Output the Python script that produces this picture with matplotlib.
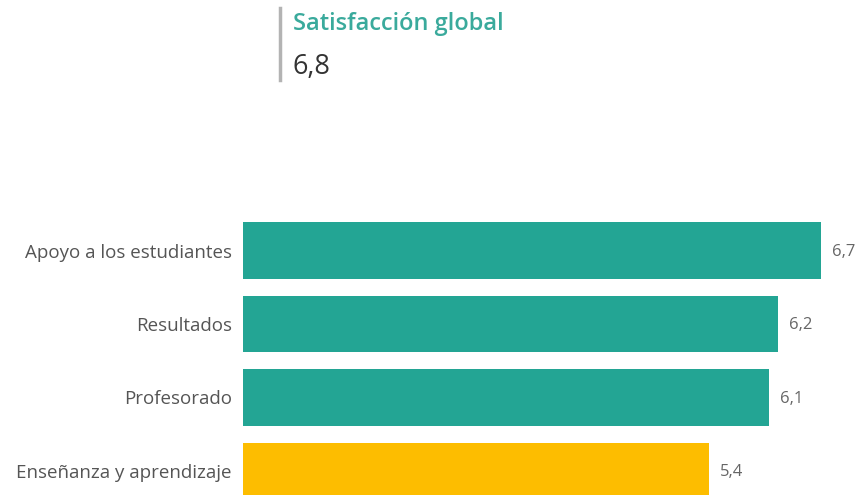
import matplotlib
matplotlib.use("Agg")
import matplotlib.pyplot as plt

# ── Data ──────────────────────────────────────────────────────────────────────
categories = ["Apoyo a los estudiantes", "Resultados", "Profesorado", "Enseñanza y aprendizaje"]
values = [6.7, 6.2, 6.1, 5.4]
bar_colors = ["#23A594", "#23A594", "#23A594", "#FDBD00"]
kpi_title = "Satisfacción global"
kpi_value = "6,8"

W, H = 861, 495
plt.rcParams["font.family"] = ["Open Sans", "DejaVu Sans"]

fig = plt.figure(figsize=(W / 100, H / 100), dpi=100)
fig.patch.set_facecolor("white")

# KPI header
fig.add_artist(plt.Line2D([280 / W, 280 / W], [1 - 8 / H, 1 - 80 / H],
                          color="#b3b3b3", linewidth=2.5, transform=fig.transFigure))
fig.text(293 / W, 1 - 24 / H, kpi_title, color="#3aaa9c", fontsize=17,
         fontweight="semibold", va="center", ha="left")
fig.text(292 / W, 1 - 67 / H, kpi_value, color="#333333", fontsize=19.5,
         va="center", ha="left")

# Bars: x=0 at px 243, ~86.3 px per unit; bar centers start at px 250.5, step 73.5
px_unit = 86.3
top_px, bottom_px = 200, 495
ax = fig.add_axes([243 / W, 0, (W - 243) / W, (bottom_px - top_px) / H])
y = list(range(len(categories)))
ax.barh(y, values, height=0.77, color=bar_colors)
ax.set_xlim(0, (W - 243) / px_unit)
ax.set_ylim((bottom_px - 250.5) / 73.5, (top_px - 250.5) / 73.5)

for yi, v in zip(y, values):
    ax.text(v + 11 / px_unit, yi + 0.02, f"{v:.1f}".replace(".", ","), va="center",
            ha="left", color="#666666", fontsize=12)

ax.set_yticks(y)
ax.set_yticklabels(categories, color="#555555", fontsize=13.5)
ax.tick_params(axis="y", length=0, pad=8)
ax.set_xticks([])
for spine in ax.spines.values():
    spine.set_visible(False)
ax.patch.set_alpha(0)

plt.savefig("out.png", dpi=100, facecolor="white")
